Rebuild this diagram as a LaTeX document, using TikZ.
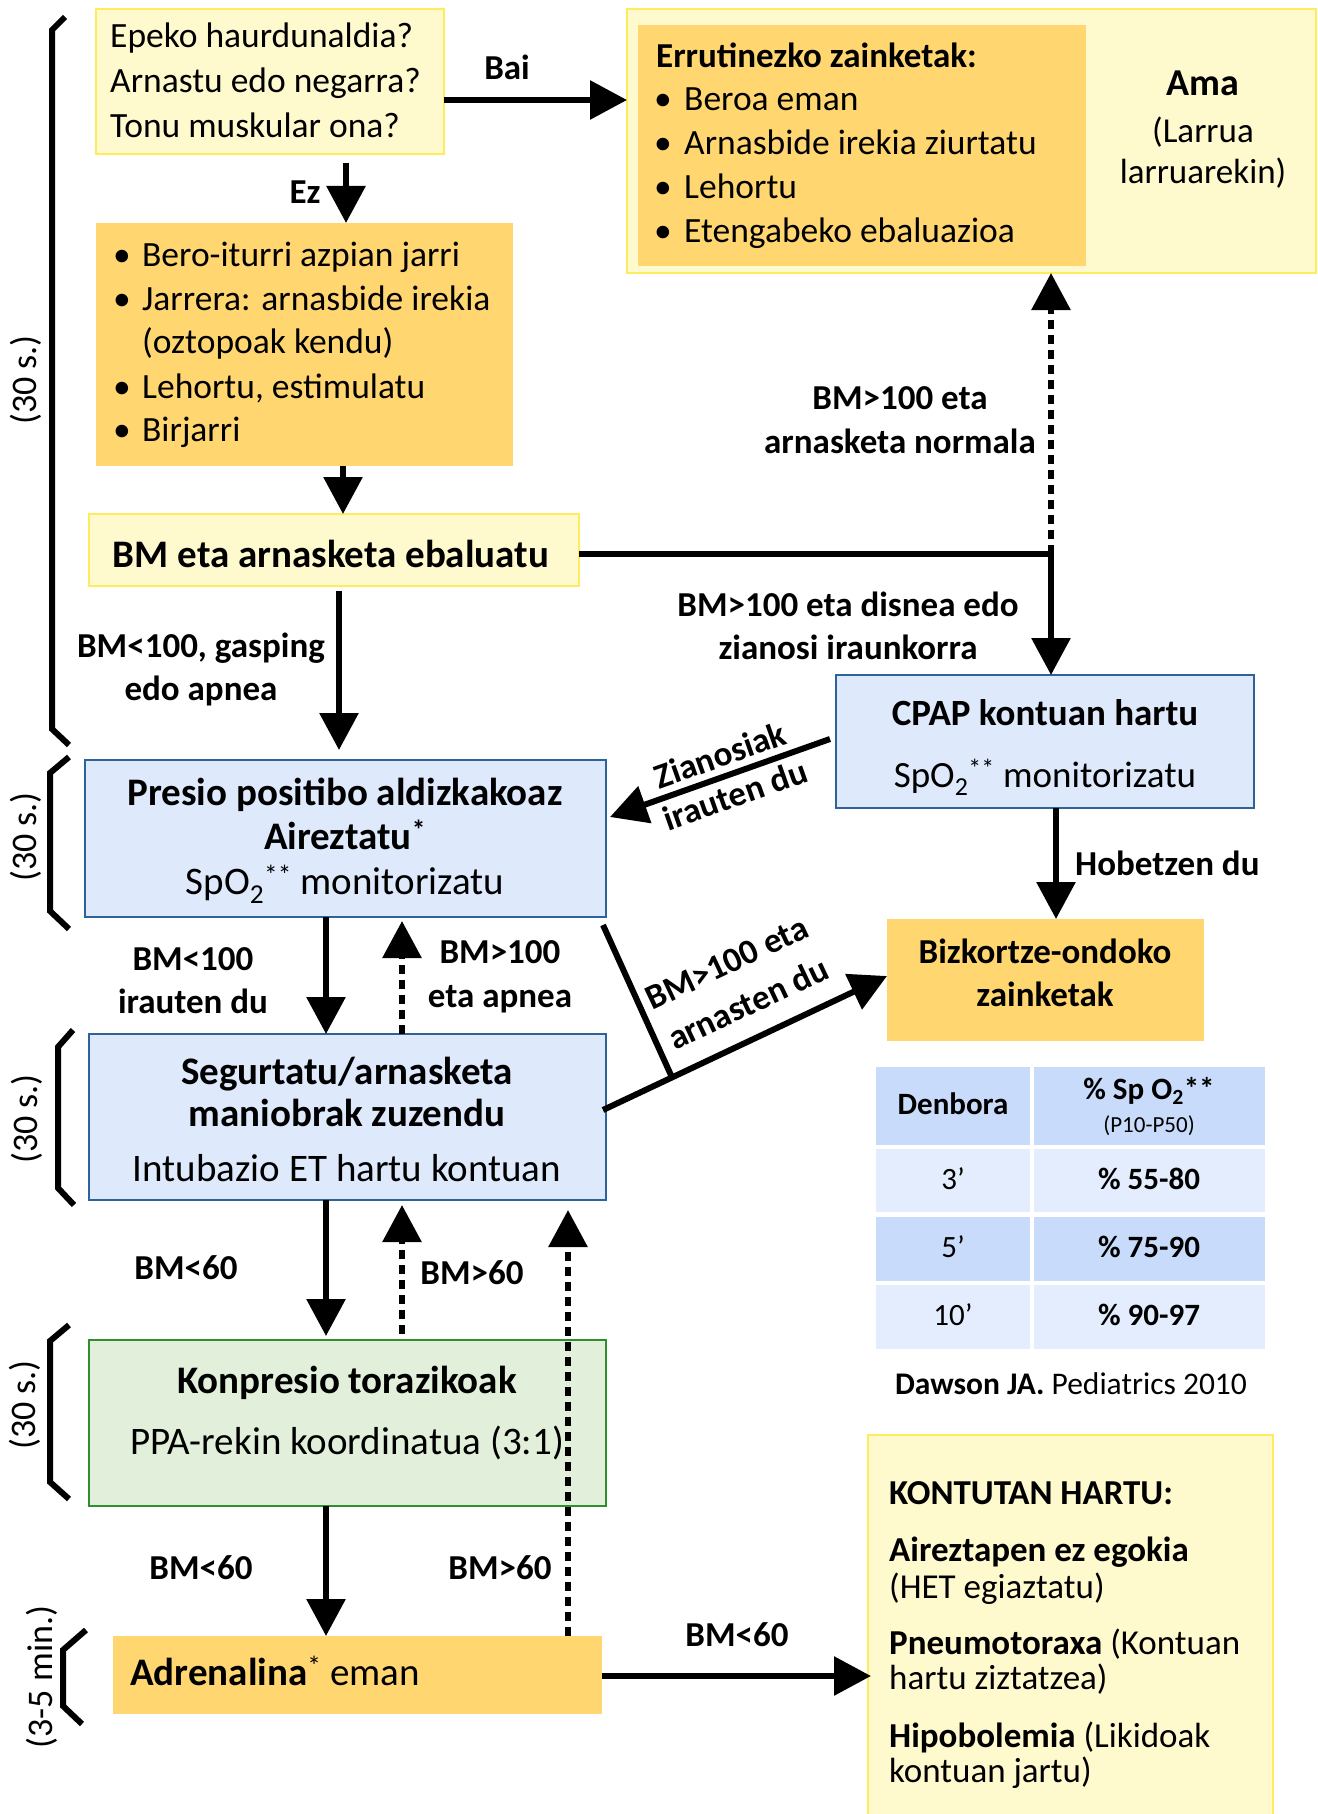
\documentclass[tikz,border=0pt]{standalone}
\usepackage{fontspec}
\setmainfont{Carlito}
\usetikzlibrary{arrows.meta,calc}

\definecolor{paleyellow}{HTML}{FFF9CE}
\definecolor{yellowline}{HTML}{FFEC5C}
\definecolor{amber}{HTML}{FFD670}
\definecolor{paleblue}{HTML}{DEE9FC}
\definecolor{blueline}{HTML}{2E6399}
\definecolor{palegreen}{HTML}{E2EFDA}
\definecolor{greenline}{HTML}{2F8F2F}
\definecolor{tabdark}{HTML}{C8DBFA}
\definecolor{tablight}{HTML}{E3EDFD}

% font size in pt with matching line height
\newcommand\fsz[1]{\fontsize{#1}{#1}\selectfont}
% rectangle node from its two corners: name, style, x1, y1, x2, y2
\newcommand\mkbox[6]{\node[#2, minimum width={#5-#3}, minimum height={#6-#4}] (#1) at ({(#3+#5)/2},{(#4+#6)/2}) {};}
\newcommand\spo{SpO\textsubscript{2}\textsuperscript{**}}

\begin{document}
\begin{tikzpicture}[x=1pt,y=-1pt,
  shp/.style={rectangle, inner sep=0pt, outer sep=0pt},
  yelbox/.style={shp, fill=paleyellow, draw=yellowline, line width=2.5pt},
  ambox/.style={shp, fill=amber},
  bluebox/.style={shp, fill=paleblue, draw=blueline, line width=2.5pt},
  greenbox/.style={shp, fill=palegreen, draw=greenline, line width=2.5pt},
  celldark/.style={shp, fill=tabdark},
  celllight/.style={shp, fill=tablight},
  ctxt/.style={inner sep=0pt, anchor=base},
  ltxt/.style={inner sep=0pt, anchor=base west},
  lbl/.style={ctxt, font=\fsz{35}\bfseries},
  rlbl/.style={inner sep=0pt, anchor=center, font=\fsz{35}\bfseries},
  side/.style={inner sep=0pt, anchor=center, rotate=90, font=\fsz{36}},
  ln/.style={line width=6pt},
  arr/.style={ln, -{Triangle[length=37pt,width=38pt]}},
  dotarr/.style={arr, dash pattern=on 9pt off 6pt},
  brace/.style={line width=6pt, line join=miter},
]
\useasboundingbox (0,0) rectangle (1317,1814);
\fill[white] (0,0) rectangle (1317,1814);

% ---------- boxes ----------
\mkbox{q1}{yelbox}{96}{9}{444}{154}
\mkbox{ama}{yelbox}{627}{9}{1316}{273}
\mkbox{rout}{ambox}{638}{25}{1086}{266}
\mkbox{steps}{ambox}{96}{223}{513}{466}
\mkbox{eval}{yelbox}{89}{514}{579}{586}
\mkbox{ppv}{bluebox}{85}{760}{606}{917}
\mkbox{cpap}{bluebox}{836}{675}{1254}{808}
\mkbox{post}{ambox}{887}{919}{1204}{1041}
\mkbox{corr}{bluebox}{89}{1034}{606}{1200}
\mkbox{comp}{greenbox}{89}{1340}{606}{1506}
\mkbox{adr}{ambox}{113}{1636}{602}{1714}
\mkbox{note}{yelbox}{868}{1435}{1273}{1840}

% SpO2 reference table
\mkbox{h1}{celldark}{876}{1067}{1030}{1145}
\mkbox{h2}{celldark}{1034}{1067}{1265}{1145}
\mkbox{r1a}{celllight}{876}{1149}{1030}{1212}
\mkbox{r1b}{celllight}{1034}{1149}{1265}{1212}
\mkbox{r2a}{celldark}{876}{1217}{1030}{1281}
\mkbox{r2b}{celldark}{1034}{1217}{1265}{1281}
\mkbox{r3a}{celllight}{876}{1285}{1030}{1349}
\mkbox{r3b}{celllight}{1034}{1285}{1265}{1349}

% ---------- time brackets ----------
\draw[brace] (65,17) -- (52,30) -- (52,729) -- (69,745);
\draw[brace] (69,757) -- (50,773) -- (50,911) -- (69,929);
\draw[brace] (73,1030) -- (58,1047) -- (58,1188) -- (74,1205);
\draw[brace] (69,1325) -- (50,1341) -- (50,1482) -- (69,1499);
\draw[brace] (86,1630) -- (63,1650) -- (63,1706) -- (82,1724);
\node[side] (s1) at (26,380) {(30 s.)};
\node[side] (s2) at (26,837) {(30 s.)};
\node[side] (s3) at (27,1119) {(30 s.)};
\node[side] (s4) at (25,1405) {(30 s.)};
\node[side] (s5) at (42,1677) {(3-5 min.)};

% ---------- box texts ----------
\begin{scope}[every node/.append style={font=\fsz{35.5}}]
\node[ltxt] (q1a) at (110,48) {Epeko haurdunaldia?};
\node[ltxt] (q1b) at (110,93) {Arnastu edo negarra?};
\node[ltxt] (q1c) at (110,138) {Tonu muskular ona?};

\node[ltxt] (st1) at (113,266) {\makebox[29pt][l]{\textbullet}Bero-iturri azpian jarri};
\node[ltxt] (st2) at (113,310) {\makebox[29pt][l]{\textbullet}Jarrera: arnasbide irekia};
\node[ltxt] (st3) at (142,353) {(oztopoak kendu)};
\node[ltxt] (st4) at (113,398) {\makebox[29pt][l]{\textbullet}Lehortu, estimulatu};
\node[ltxt] (st5) at (113,441) {\makebox[29pt][l]{\textbullet}Birjarri};

\node[ltxt, font=\fsz{35}\bfseries] (ro0) at (656,68) {Errutinezko zainketak:};
\node[ltxt] (ro1) at (654,111) {\makebox[30pt][l]{\textbullet}Beroa eman};
\node[ltxt] (ro2) at (654,155) {\makebox[30pt][l]{\textbullet}Arnasbide irekia ziurtatu};
\node[ltxt] (ro3) at (654,199) {\makebox[30pt][l]{\textbullet}Lehortu};
\node[ltxt] (ro4) at (654,242) {\makebox[30pt][l]{\textbullet}Etengabeko ebaluazioa};

\node[ctxt, font=\fsz{38}\bfseries] (am1) at (1203,96) {Ama};
\node[ctxt, font=\fsz{35}] (am2) at (1203,143) {(Larrua};
\node[ctxt, font=\fsz{35}] (am3) at (1203,184) {larruarekin)};
\end{scope}

\node[ctxt, font=\fsz{39}\bfseries] (ev) at (331,567) {BM eta arnasketa ebaluatu};

\node[ctxt, font=\fsz{39}\bfseries] (pp1) at (345,805) {Presio positibo aldizkakoaz};
\node[ctxt, font=\fsz{39}\bfseries] (pp2) at (345,849) {Aireztatu\textsuperscript{*}};
\node[ctxt, font=\fsz{39}] (pp3) at (345,894) {\spo{} monitorizatu};

\node[ctxt, font=\fsz{37}\bfseries] (cp1) at (1045,725) {CPAP kontuan hartu};
\node[ctxt, font=\fsz{37}] (cp2) at (1045,787) {\spo{} monitorizatu};

\node[ctxt, font=\fsz{35}\bfseries] (po1) at (1045,963) {Bizkortze-ondoko};
\node[ctxt, font=\fsz{35}\bfseries] (po2) at (1045,1006) {zainketak};

\node[ctxt, font=\fsz{39}\bfseries] (co1) at (347,1084) {Segurtatu/arnasketa};
\node[ctxt, font=\fsz{39}\bfseries] (co2) at (347,1126) {maniobrak zuzendu};
\node[ctxt, font=\fsz{39}] (co3) at (347,1181) {Intubazio ET hartu kontuan};

\node[ctxt, font=\fsz{39}\bfseries] (cm1) at (347,1393) {Konpresio torazikoak};
\node[ctxt, font=\fsz{39}] (cm2) at (347,1454) {PPA-rekin koordinatua (3:1)};

\node[ltxt, font=\fsz{39}] (ad1) at (130,1685) {\textbf{Adrenalina}\textsuperscript{*} eman};

% table texts
\node[ctxt, font=\fsz{31}\bfseries] (th1) at (953,1114) {Denbora};
\node[ctxt, font=\fsz{31}\bfseries] (th2) at (1149,1099) {\% Sp O\textsubscript{2}**};
\node[ctxt, font=\fsz{23}] (th3) at (1149,1132) {(P10-P50)};
\node[ctxt, font=\fsz{31}] (ta1) at (953,1189) {3’};
\node[ctxt, font=\fsz{31}\bfseries] (tb1) at (1149,1189) {\% 55-80};
\node[ctxt, font=\fsz{31}] (ta2) at (953,1257) {5’};
\node[ctxt, font=\fsz{31}\bfseries] (tb2) at (1149,1257) {\% 75-90};
\node[ctxt, font=\fsz{31}] (ta3) at (953,1325) {10’};
\node[ctxt, font=\fsz{31}\bfseries] (tb3) at (1149,1325) {\% 90-97};
\node[ctxt, font=\fsz{31.5}] (src) at (1071,1394) {\textbf{Dawson JA.} Pediatrics 2010};

% notes box
\begin{scope}[every node/.append style={font=\fsz{35}}]
\node[ltxt] (n0) at (889,1504) {\textbf{KONTUTAN HARTU:}};
\node[ltxt] (n1) at (889,1561) {\textbf{Aireztapen ez egokia}};
\node[ltxt] (n2) at (889,1598) {(HET egiaztatu)};
\node[ltxt] (n3) at (889,1654) {\textbf{Pneumotoraxa} (Kontuan};
\node[ltxt] (n4) at (889,1689) {hartu ziztatzea)};
\node[ltxt] (n5) at (889,1747) {\textbf{Hipobolemia} (Likidoak};
\node[ltxt] (n6) at (889,1782) {kontuan jartu)};
\end{scope}

% ---------- connectors ----------
\draw[arr] (q1.east |- 0,100) -- (ama.west |- 0,100);
\node[lbl] (lbai) at (507,80) {Bai};

\draw[arr] ($(q1.south -| 346,0)+(0,9)$) -- (steps.north -| 346,0);
\node[lbl] (lez) at (305,204) {Ez};

\draw[arr] (steps.south -| 343,0) -- (eval.north -| 343,0);

\coordinate (j1) at (1051,554);
\draw[ln] (eval.east |- j1) -- (j1);
\draw[arr] ($(j1)+(0,-3)$) -- (j1 |- cpap.north);
\draw[dotarr] (j1) -- (j1 |- ama.south);
\node[lbl] (l1a) at (900,409) {BM>100 eta};
\node[lbl] (l1b) at (900,453) {arnasketa normala};
\node[lbl] (l2a) at (848,616) {BM>100 eta disnea edo};
\node[lbl] (l2b) at (848,659) {zianosi iraunkorra};

\draw[arr] ($(eval.south -| 339,0)+(0,5)$) -- ($(ppv.north -| 339,0)+(0,-10)$);
\node[lbl] (l3a) at (201,657) {BM<100, gasping};
\node[lbl] (l3b) at (201,700) {edo apnea};

\draw[arr] ($(cpap.west |- 0,739)+(-6,0)$) -- ($(ppv.east |- 0,817)+(4,0)$);
\node[rlbl, rotate=19.5] (l4a) at (720,755) {Zianosiak};
\node[rlbl, rotate=19.5] (l4b) at (735,795) {irauten du};

\draw[arr] (cpap.south -| 1056,0) -- (post.north -| 1056,0);
\node[ltxt, font=\fsz{35}\bfseries] (l5) at (1075,875) {Hobetzen du};

\draw[arr] (ppv.south -| 326,0) -- (corr.north -| 326,0);
\node[lbl] (l6a) at (193,970) {BM<100};
\node[lbl] (l6b) at (193,1013) {irauten du};

\draw[dotarr] (corr.north -| 402,0) -- ($(ppv.south -| 402,0)+(0,4)$);
\node[lbl] (l7a) at (500,963) {BM>100};
\node[lbl] (l7b) at (500,1007) {eta apnea};

\coordinate (d0) at ($(corr.east |- 0,1110)+(-3,0)$);
\coordinate (d1) at (post.west |- 0,976);
\coordinate (j2) at ($(d0)!0.243!(d1)$);
\draw[ln] ($(ppv.south east)+(-3,8)$) -- (j2);
\draw[arr] (d0) -- (d1);
\node[rlbl, rotate=25.3] (l8a) at (727,963) {BM>100 eta};
\node[rlbl, rotate=25.3] (l8b) at (748,1003) {arnasten du};

\draw[arr] (corr.south -| 326,0) -- ($(comp.north -| 326,0)+(0,-4)$);
\node[lbl] (l9) at (186,1279) {BM<60};
\draw[dotarr] ($(comp.north -| 402,0)+(0,-6)$) -- ($(corr.south -| 402,0)+(0,5)$);
\node[lbl] (l10) at (472,1284) {BM>60};

\draw[arr] (comp.south -| 326,0) -- (adr.north -| 326,0);
\node[lbl] (l11) at (201,1579) {BM<60};
\draw[dotarr] (adr.north -| 568,0) -- ($(corr.south -| 568,0)+(0,10)$);
\node[lbl] (l12) at (500,1579) {BM>60};

\draw[arr] (adr.east |- 0,1676) -- ($(note.west |- 0,1676)+(3,0)$);
\node[lbl] (l13) at (737,1646) {BM<60};

\end{tikzpicture}
\end{document}
